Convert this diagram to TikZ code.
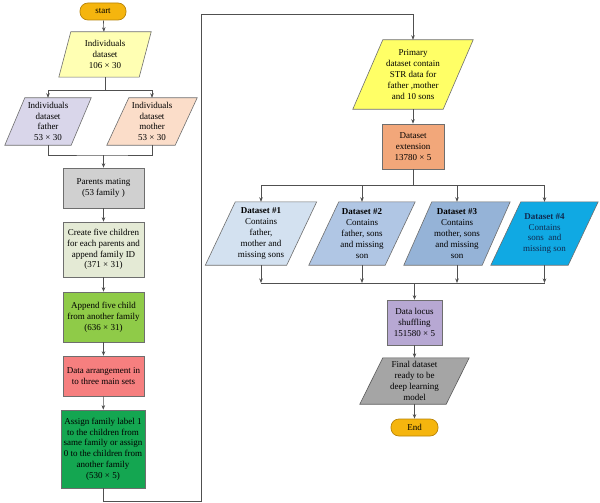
\documentclass[tikz,border=0pt]{standalone}
\usepackage{fontspec}
\setmainfont{Liberation Serif}
\usetikzlibrary{arrows.meta,backgrounds,calc}
\definecolor{boxline}{HTML}{6E6E6E}
\definecolor{lineclr}{HTML}{505050}
\definecolor{pillfill}{HTML}{F5B50E}
\definecolor{pillline}{HTML}{B88408}
\definecolor{indfill}{HTML}{FFFFB3}
\definecolor{fatherfill}{HTML}{D9D6EA}
\definecolor{motherfill}{HTML}{FBDDC9}
\definecolor{matingfill}{HTML}{D0D0D0}
\definecolor{createfill}{HTML}{E4EAD5}
\definecolor{appendfill}{HTML}{8FCB48}
\definecolor{arrangefill}{HTML}{F67F7F}
\definecolor{assignfill}{HTML}{14A651}
\definecolor{primaryfill}{HTML}{FFFF66}
\definecolor{extfill}{HTML}{F2A77A}
\definecolor{locusfill}{HTML}{B7A8D3}
\definecolor{finalfill}{HTML}{A5A5A5}
\definecolor{dsonefill}{HTML}{D3E1F0}
\definecolor{dstwofill}{HTML}{B0C6E4}
\definecolor{dsthreefill}{HTML}{95B3D7}
\definecolor{dsfourfill}{HTML}{10A9E3}
\definecolor{navytext}{HTML}{102A50}
\tikzset{
  txt/.style={font=\fontsize{9}{10.8}\selectfont, align=center, inner sep=0pt, text=black},
  rbox/.style={txt, draw=boxline, line width=0.6pt},
  pbox/.style={txt},
  pill/.style={txt, draw=pillline, fill=pillfill, rounded corners=8pt, line width=0.7pt},
  conn/.style={draw=lineclr, line width=0.6pt},
  arr/.style={conn, -{Stealth[length=4.5pt,width=3.5pt]}},
}
\newcommand{\paral}[4]{\filldraw[fill=#3, draw=#4, line width=0.6pt]
  ($(#1.north west)+(#2,0)$) -- ($(#1.north east)+(#2,0)$) --
  ($(#1.south east)-(#2,0)$) -- ($(#1.south west)-(#2,0)$) -- cycle;}
\begin{document}
\begin{tikzpicture}[x=1pt,y=-1pt]
\useasboundingbox (0,0) rectangle (600,503);
% left column
\node[pill, minimum width=46pt, minimum height=17pt] (start) at (103,11.5) {start};
\node[pbox, minimum width=80pt, minimum height=45pt] (ind) at (105,54.5) {Individuals\\dataset\\106 × 30};
\node[pbox, minimum width=66pt, minimum height=47pt] (father) at (48,121.5) {Individuals\\dataset\\father\\53 × 30};
\node[pbox, minimum width=68pt, minimum height=47pt] (mother) at (152,121.5) {Individuals\\dataset\\mother\\53 × 30};
\node[rbox, fill=matingfill, minimum width=81pt, minimum height=40pt] (mating) at (103.5,188) {Parents mating\\(53 family )};
\node[rbox, fill=createfill, minimum width=81pt, minimum height=55pt] (create) at (103.5,249.5) {Create five children\\for each parents and\\append family ID\\(371 × 31)};
\node[rbox, fill=appendfill, minimum width=81pt, minimum height=50pt] (append) at (103.5,317) {Append five child\\from another family\\(636 × 31)};
\node[rbox, fill=arrangefill, minimum width=81pt, minimum height=40pt] (arrange) at (103.5,376) {Data arrangement in\\to three main sets};
\node[rbox, fill=assignfill, minimum width=84pt, minimum height=78pt] (assign) at (103,449) {Assign family label 1\\to the children from\\same family or assign\\0 to the children from\\another family\\(530 × 5)};
% right column
\node[pbox, minimum width=90pt, minimum height=69pt] (primary) at (413,74.5) {Primary\\dataset contain\\STR data for\\father ,mother\\and 10 sons};
\node[rbox, fill=extfill, minimum width=62pt, minimum height=45pt] (ext) at (413,146.5) {Dataset\\extension\\13780 × 5};
\node[pbox, minimum width=81pt, minimum height=63pt] (ds1) at (261,233.5) {\textbf{Dataset \#1}\\Contains\\father,\\mother and\\missing sons};
\node[pbox, minimum width=76pt, minimum height=63pt] (ds2) at (362,233.5) {\textbf{Dataset \#2}\\Contains\\father, sons\\and missing\\son};
\node[pbox, minimum width=78pt, minimum height=63pt] (ds3) at (457,233.5) {\textbf{Dataset \#3}\\Contains\\mother, sons\\and missing\\son};
\node[pbox, text=navytext, minimum width=77pt, minimum height=63pt] (ds4) at (544.5,233.5) {\textbf{Dataset \#4}\\Contains\\sons\ \ and\\missing son};
\node[rbox, fill=locusfill, minimum width=55pt, minimum height=45pt] (locus) at (414.5,322.5) {Data locus\\shuffling\\151580 × 5};
\node[pbox, minimum width=86pt, minimum height=46pt] (final) at (414.5,381) {Final dataset\\ready to be\\deep learning\\model};
\node[pill, minimum width=47pt, minimum height=17pt] (end) at (414.5,427.5) {End};
% parallelogram outlines
\begin{pgfonlayer}{background}
\fill[white] (0,0) rectangle (600,503);
\paral{ind}{6}{indfill}{boxline}
\paral{father}{10}{fatherfill}{boxline}
\paral{mother}{11}{motherfill}{boxline}
\paral{primary}{15}{primaryfill}{boxline}
\paral{ds1}{15}{dsonefill}{boxline}
\paral{ds2}{15}{dstwofill}{boxline}
\paral{ds3}{14}{dsthreefill}{boxline}
\paral{ds4}{15}{dsfourfill}{boxline}
\paral{final}{11.5}{finalfill}{black!65}
\end{pgfonlayer}
% connectors left
\coordinate (sp1) at (105,90);
\coordinate (mg1) at (104,155);
\draw[arr] (start) -- (ind);
\draw[conn] (ind.south) -- (sp1);
\draw[arr] (sp1) -| (father.north);
\draw[arr] (sp1) -| (mother.north);
\draw[conn] (father.south) |- (mg1) -| (mother.south);
\draw[arr] (mating.north |- mg1) -- (mating.north);
\draw[arr] (mating) -- (create);
\draw[arr] (create) -- (append);
\draw[arr] (append) -- (arrange);
\draw[arr] (arrange) -- (assign);
% loop to right column
\coordinate (lp1) at (201,501);
\coordinate (lp2) at (201,14);
\draw[arr] (assign.south) |- (lp1) -- (lp2) -| (primary.north);
% right column
\draw[arr] (primary) -- (ext);
\coordinate (sp2) at (413,185);
\draw[conn] (ext.south) -- (sp2);
\draw[conn] (ds1.north |- sp2) -- (ds4.north |- sp2);
\foreach \n in {ds1,ds2,ds3,ds4}{
  \draw[arr] (\n.north |- sp2) -- (\n.north);
}
\coordinate (mg2) at (414.5,283);
\foreach \n in {ds1,ds2,ds3,ds4}{
  \draw[arr] (\n.south) -- (\n.south |- mg2);
}
\draw[conn] (ds1.south |- mg2) -- (ds4.south |- mg2);
\draw[arr] (locus.north |- mg2) -- (locus.north);
\draw[arr] (locus) -- (final);
\draw[arr] (final) -- (end);
\end{tikzpicture}
\end{document}
